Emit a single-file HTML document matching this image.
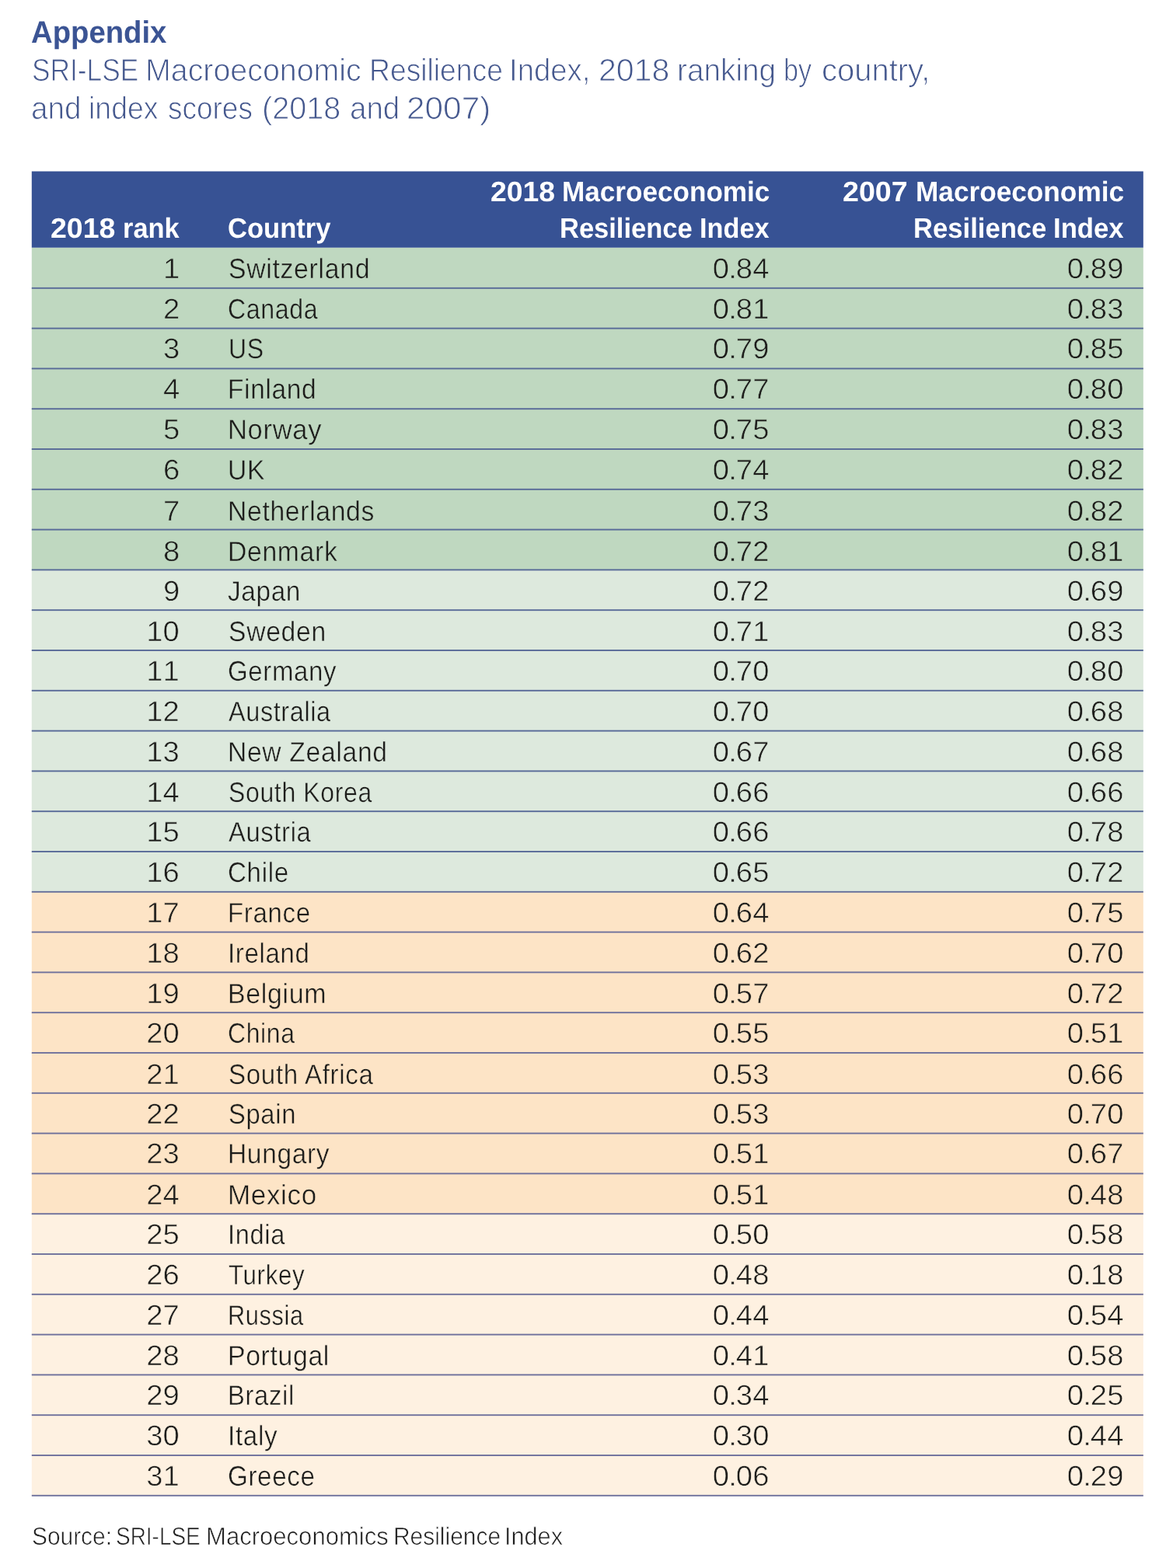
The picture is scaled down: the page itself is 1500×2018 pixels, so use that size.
<!DOCTYPE html>
<html lang="en"><head><meta charset="utf-8"><title>Appendix - SRI-LSE Macroeconomic Resilience Index</title>
<style>
html,body{margin:0;padding:0;background:#fff;}
body{width:1500px;height:2018px;position:relative;overflow:hidden;font-family:"Liberation Sans",Arial,Helvetica,sans-serif;color:#1d1d1b;text-rendering:geometricPrecision;}
svg.bg{position:absolute;left:0;top:0;}
h1,p{margin:0;font-weight:normal;}
.t{position:absolute;display:block;white-space:pre;line-height:0;height:0;}
.w{display:inline-block;line-height:0;transform-origin:0 50%;}
.n{font-kerning:none;transform-origin:100% 50%;transform:scaleX(1.045);}
.d{margin:0 -1.1px;}
.title{color:#45588e;}
.h{color:#fff;}
.src{color:#1f1f1f;-webkit-text-stroke:0.65px #fff;}
.title{-webkit-text-stroke:0.9px #fff;}
h1.title{-webkit-text-stroke:0;color:#3b5494;}
.g1 .t{-webkit-text-stroke:0.45px #bfd8c0;}
.g1 .n{-webkit-text-stroke-width:0.6px;}
.g2 .t{-webkit-text-stroke:0.45px #dde9dd;}
.g2 .n{-webkit-text-stroke-width:0.6px;}
.o1 .t{-webkit-text-stroke:0.45px #fde4c6;}
.o1 .n{-webkit-text-stroke-width:0.6px;}
.o2 .t{-webkit-text-stroke:0.45px #fef1e1;}
.o2 .n{-webkit-text-stroke-width:0.6px;}
</style></head><body>
<svg class="bg" width="1500" height="2018" viewBox="0 0 1500 2018">
<rect x="40.8" y="318.70" width="1430.00" height="52.70" fill="#bfd8c0"/>
<rect x="40.8" y="370.80" width="1430.00" height="52.40" fill="#bfd8c0"/>
<rect x="40.8" y="422.60" width="1430.00" height="52.40" fill="#bfd8c0"/>
<rect x="40.8" y="474.40" width="1430.00" height="52.40" fill="#bfd8c0"/>
<rect x="40.8" y="526.20" width="1430.00" height="52.40" fill="#bfd8c0"/>
<rect x="40.8" y="578.00" width="1430.00" height="52.40" fill="#bfd8c0"/>
<rect x="40.8" y="629.80" width="1430.00" height="52.40" fill="#bfd8c0"/>
<rect x="40.8" y="681.60" width="1430.00" height="52.40" fill="#bfd8c0"/>
<rect x="40.8" y="733.40" width="1430.00" height="52.40" fill="#dde9dd"/>
<rect x="40.8" y="785.20" width="1430.00" height="52.40" fill="#dde9dd"/>
<rect x="40.8" y="837.00" width="1430.00" height="52.40" fill="#dde9dd"/>
<rect x="40.8" y="888.80" width="1430.00" height="52.40" fill="#dde9dd"/>
<rect x="40.8" y="940.60" width="1430.00" height="52.40" fill="#dde9dd"/>
<rect x="40.8" y="992.40" width="1430.00" height="52.40" fill="#dde9dd"/>
<rect x="40.8" y="1044.20" width="1430.00" height="52.40" fill="#dde9dd"/>
<rect x="40.8" y="1096.00" width="1430.00" height="52.40" fill="#dde9dd"/>
<rect x="40.8" y="1147.80" width="1430.00" height="52.40" fill="#fde4c6"/>
<rect x="40.8" y="1199.60" width="1430.00" height="52.40" fill="#fde4c6"/>
<rect x="40.8" y="1251.40" width="1430.00" height="52.40" fill="#fde4c6"/>
<rect x="40.8" y="1303.20" width="1430.00" height="52.40" fill="#fde4c6"/>
<rect x="40.8" y="1355.00" width="1430.00" height="52.40" fill="#fde4c6"/>
<rect x="40.8" y="1406.80" width="1430.00" height="52.40" fill="#fde4c6"/>
<rect x="40.8" y="1458.60" width="1430.00" height="52.40" fill="#fde4c6"/>
<rect x="40.8" y="1510.40" width="1430.00" height="52.40" fill="#fde4c6"/>
<rect x="40.8" y="1562.20" width="1430.00" height="52.40" fill="#fef1e1"/>
<rect x="40.8" y="1614.00" width="1430.00" height="52.40" fill="#fef1e1"/>
<rect x="40.8" y="1665.80" width="1430.00" height="52.40" fill="#fef1e1"/>
<rect x="40.8" y="1717.60" width="1430.00" height="52.40" fill="#fef1e1"/>
<rect x="40.8" y="1769.40" width="1430.00" height="52.40" fill="#fef1e1"/>
<rect x="40.8" y="1821.20" width="1430.00" height="52.40" fill="#fef1e1"/>
<rect x="40.8" y="1873.00" width="1430.00" height="51.80" fill="#fef1e1"/>
<rect x="40.8" y="220.5" width="1430.00" height="98.20" fill="#375294"/>
<rect x="40.8" y="369.85" width="1430.00" height="1.9" fill="#586a98"/>
<rect x="40.8" y="421.65" width="1430.00" height="1.9" fill="#586a98"/>
<rect x="40.8" y="473.45" width="1430.00" height="1.9" fill="#586a98"/>
<rect x="40.8" y="525.25" width="1430.00" height="1.9" fill="#586a98"/>
<rect x="40.8" y="577.05" width="1430.00" height="1.9" fill="#586a98"/>
<rect x="40.8" y="628.85" width="1430.00" height="1.9" fill="#586a98"/>
<rect x="40.8" y="680.65" width="1430.00" height="1.9" fill="#586a98"/>
<rect x="40.8" y="732.45" width="1430.00" height="1.9" fill="#586a98"/>
<rect x="40.8" y="784.25" width="1430.00" height="1.9" fill="#586a98"/>
<rect x="40.8" y="836.05" width="1430.00" height="1.9" fill="#586a98"/>
<rect x="40.8" y="887.85" width="1430.00" height="1.9" fill="#586a98"/>
<rect x="40.8" y="939.65" width="1430.00" height="1.9" fill="#586a98"/>
<rect x="40.8" y="991.45" width="1430.00" height="1.9" fill="#586a98"/>
<rect x="40.8" y="1043.25" width="1430.00" height="1.9" fill="#586a98"/>
<rect x="40.8" y="1095.05" width="1430.00" height="1.9" fill="#586a98"/>
<rect x="40.8" y="1146.85" width="1430.00" height="1.9" fill="#636e9a"/>
<rect x="40.8" y="1198.65" width="1430.00" height="1.9" fill="#6f719c"/>
<rect x="40.8" y="1250.45" width="1430.00" height="1.9" fill="#6f719c"/>
<rect x="40.8" y="1302.25" width="1430.00" height="1.9" fill="#6f719c"/>
<rect x="40.8" y="1354.05" width="1430.00" height="1.9" fill="#6f719c"/>
<rect x="40.8" y="1405.85" width="1430.00" height="1.9" fill="#6f719c"/>
<rect x="40.8" y="1457.65" width="1430.00" height="1.9" fill="#6f719c"/>
<rect x="40.8" y="1509.45" width="1430.00" height="1.9" fill="#6f719c"/>
<rect x="40.8" y="1561.25" width="1430.00" height="1.9" fill="#6f719c"/>
<rect x="40.8" y="1613.05" width="1430.00" height="1.9" fill="#6f719c"/>
<rect x="40.8" y="1664.85" width="1430.00" height="1.9" fill="#6f719c"/>
<rect x="40.8" y="1716.65" width="1430.00" height="1.9" fill="#6f719c"/>
<rect x="40.8" y="1768.45" width="1430.00" height="1.9" fill="#6f719c"/>
<rect x="40.8" y="1820.25" width="1430.00" height="1.9" fill="#6f719c"/>
<rect x="40.8" y="1872.05" width="1430.00" height="1.9" fill="#6f719c"/>
<rect x="40.8" y="1923.85" width="1430.00" height="1.9" fill="#6f719c"/>
</svg>
<h1 class="t title" style="left:40.10px;top:42px;font-size:40px;font-weight:bold"><span class="w" style="transform:scaleX(0.9568)">Appendix</span></h1>
<p class="t title" style="left:40.60px;top:90px;font-size:40.5px"><span class="w" style="transform:scaleX(0.8714);margin-right:-22.775px">SRI-LSE </span><span class="w" style="transform:scaleX(0.9718);margin-right:-9.042px">Macroeconomic </span><span class="w" style="transform:scaleX(0.9202);margin-right:-17.971px">Resilience </span><span class="w" style="transform:scaleX(0.9459);margin-right:-6.612px">Index, </span><span class="w" style="transform:scaleX(1.0144);margin-right:0.255px">2018 </span><span class="w" style="transform:scaleX(0.9568);margin-right:-7.194px">ranking </span><span class="w" style="transform:scaleX(0.8424);margin-right:-5.743px">by </span><span class="w" style="transform:scaleX(0.9871)">country,</span></p>
<p class="t title" style="left:40.49px;top:139px;font-size:40.5px"><span class="w" style="transform:scaleX(0.9542);margin-right:-5.258px">and </span><span class="w" style="transform:scaleX(0.9248);margin-right:-6.309px">index </span><span class="w" style="transform:scaleX(0.9132);margin-right:-9.715px">scores </span><span class="w" style="transform:scaleX(0.9776);margin-right:-1.784px">(2018 </span><span class="w" style="transform:scaleX(0.9511);margin-right:-5.505px">and </span><span class="w" style="transform:scaleX(1.0453)">2007)</span></p>
<div role="table" aria-label="SRI-LSE Macroeconomic Resilience Index ranking">
<div role="row">
<div class="t h" style="left:64.83px;top:294px;font-size:36.3px;font-weight:bold"><span class="w" style="transform:scaleX(1.0328);margin-right:2.184px">2018 </span><span class="w" style="transform:scaleX(0.9472)">rank</span></div>
<div class="t h" style="left:292.92px;top:294px;font-size:36.3px;font-weight:bold"><span class="w" style="transform:scaleX(0.9527)">Country</span></div>
<div class="t h" style="left:630.53px;top:247px;font-size:36.3px;font-weight:bold"><span class="w" style="transform:scaleX(1.0290);margin-right:1.434px">2018 </span><span class="w" style="transform:scaleX(0.9675)">Macroeconomic</span></div>
<div class="t h" style="left:719.54px;top:294px;font-size:36.3px;font-weight:bold"><span class="w" style="transform:scaleX(0.9500);margin-right:-9.658px">Resilience </span><span class="w" style="transform:scaleX(0.9443)">Index</span></div>
<div class="t h" style="left:1083.82px;top:247px;font-size:36.3px;font-weight:bold"><span class="w" style="transform:scaleX(1.0365);margin-right:3.136px">2007 </span><span class="w" style="transform:scaleX(0.9700)">Macroeconomic</span></div>
<div class="t h" style="left:1174.54px;top:294px;font-size:36.3px;font-weight:bold"><span class="w" style="transform:scaleX(0.9540);margin-right:-9.673px">Resilience </span><span class="w" style="transform:scaleX(0.9550)">Index</span></div>
</div>
<div class="row g1" role="row"><span class="t n" style="right:1269.00px;top:346px;font-size:36.6px;letter-spacing:0.130px;margin-right:-0.130px">1</span><span class="t c" style="left:293.69px;top:346px;font-size:36px"><span class="w" style="letter-spacing:0.700px;transform:scaleX(0.9398);margin-right:-0.700px">Switzerland</span></span><span class="t n" style="right:510.60px;top:346px;font-size:36.6px;letter-spacing:0.130px;margin-right:-0.130px">0<span class="d">.</span>84</span><span class="t n" style="right:54.60px;top:346px;font-size:36.6px;letter-spacing:0.130px;margin-right:-0.130px">0<span class="d">.</span>89</span></div>
<div class="row g1" role="row"><span class="t n" style="right:1269.00px;top:398px;font-size:36.6px;letter-spacing:0.130px;margin-right:-0.130px">2</span><span class="t c" style="left:293.24px;top:398px;font-size:36px"><span class="w" style="letter-spacing:0.700px;transform:scaleX(0.8919);margin-right:-0.700px">Canada</span></span><span class="t n" style="right:510.60px;top:398px;font-size:36.6px;letter-spacing:0.130px;margin-right:-0.130px">0<span class="d">.</span>81</span><span class="t n" style="right:54.60px;top:398px;font-size:36.6px;letter-spacing:0.130px;margin-right:-0.130px">0<span class="d">.</span>83</span></div>
<div class="row g1" role="row"><span class="t n" style="right:1269.00px;top:449px;font-size:36.6px;letter-spacing:0.130px;margin-right:-0.130px">3</span><span class="t c" style="left:293.55px;top:449px;font-size:36px"><span class="w" style="letter-spacing:0.700px;transform:scaleX(0.8882);margin-right:-0.700px">US</span></span><span class="t n" style="right:510.60px;top:449px;font-size:36.6px;letter-spacing:0.130px;margin-right:-0.130px">0<span class="d">.</span>79</span><span class="t n" style="right:54.60px;top:449px;font-size:36.6px;letter-spacing:0.130px;margin-right:-0.130px">0<span class="d">.</span>85</span></div>
<div class="row g1" role="row"><span class="t n" style="right:1269.00px;top:501px;font-size:36.6px;letter-spacing:0.130px;margin-right:-0.130px">4</span><span class="t c" style="left:292.94px;top:501px;font-size:36px"><span class="w" style="letter-spacing:0.700px;transform:scaleX(0.9290);margin-right:-0.700px">Finland</span></span><span class="t n" style="right:510.60px;top:501px;font-size:36.6px;letter-spacing:0.130px;margin-right:-0.130px">0<span class="d">.</span>77</span><span class="t n" style="right:54.60px;top:501px;font-size:36.6px;letter-spacing:0.130px;margin-right:-0.130px">0<span class="d">.</span>80</span></div>
<div class="row g1" role="row"><span class="t n" style="right:1269.00px;top:553px;font-size:36.6px;letter-spacing:0.130px;margin-right:-0.130px">5</span><span class="t c" style="left:292.85px;top:553px;font-size:36px"><span class="w" style="letter-spacing:0.700px;transform:scaleX(0.9591);margin-right:-0.700px">Norway</span></span><span class="t n" style="right:510.60px;top:553px;font-size:36.6px;letter-spacing:0.130px;margin-right:-0.130px">0<span class="d">.</span>75</span><span class="t n" style="right:54.60px;top:553px;font-size:36.6px;letter-spacing:0.130px;margin-right:-0.130px">0<span class="d">.</span>83</span></div>
<div class="row g1" role="row"><span class="t n" style="right:1269.00px;top:605px;font-size:36.6px;letter-spacing:0.130px;margin-right:-0.130px">6</span><span class="t c" style="left:293.44px;top:605px;font-size:36px"><span class="w" style="letter-spacing:0.700px;transform:scaleX(0.9382);margin-right:-0.700px">UK</span></span><span class="t n" style="right:510.60px;top:605px;font-size:36.6px;letter-spacing:0.130px;margin-right:-0.130px">0<span class="d">.</span>74</span><span class="t n" style="right:54.60px;top:605px;font-size:36.6px;letter-spacing:0.130px;margin-right:-0.130px">0<span class="d">.</span>82</span></div>
<div class="row g1" role="row"><span class="t n" style="right:1269.00px;top:658px;font-size:36.6px;letter-spacing:0.130px;margin-right:-0.130px">7</span><span class="t c" style="left:292.92px;top:658px;font-size:36px"><span class="w" style="letter-spacing:0.700px;transform:scaleX(0.9367);margin-right:-0.700px">Netherlands</span></span><span class="t n" style="right:510.60px;top:658px;font-size:36.6px;letter-spacing:0.130px;margin-right:-0.130px">0<span class="d">.</span>73</span><span class="t n" style="right:54.60px;top:658px;font-size:36.6px;letter-spacing:0.130px;margin-right:-0.130px">0<span class="d">.</span>82</span></div>
<div class="row g1" role="row"><span class="t n" style="right:1269.00px;top:710px;font-size:36.6px;letter-spacing:0.130px;margin-right:-0.130px">8</span><span class="t c" style="left:292.91px;top:710px;font-size:36px"><span class="w" style="letter-spacing:0.700px;transform:scaleX(0.9372);margin-right:-0.700px">Denmark</span></span><span class="t n" style="right:510.60px;top:710px;font-size:36.6px;letter-spacing:0.130px;margin-right:-0.130px">0<span class="d">.</span>72</span><span class="t n" style="right:54.60px;top:710px;font-size:36.6px;letter-spacing:0.130px;margin-right:-0.130px">0<span class="d">.</span>81</span></div>
<div class="row g2" role="row"><span class="t n" style="right:1269.00px;top:761px;font-size:36.6px;letter-spacing:0.130px;margin-right:-0.130px">9</span><span class="t c" style="left:293.43px;top:761px;font-size:36px"><span class="w" style="letter-spacing:0.700px;transform:scaleX(0.9257);margin-right:-0.700px">Japan</span></span><span class="t n" style="right:510.60px;top:761px;font-size:36.6px;letter-spacing:0.130px;margin-right:-0.130px">0<span class="d">.</span>72</span><span class="t n" style="right:54.60px;top:761px;font-size:36.6px;letter-spacing:0.130px;margin-right:-0.130px">0<span class="d">.</span>69</span></div>
<div class="row g2" role="row"><span class="t n" style="right:1269.00px;top:813px;font-size:36.6px;letter-spacing:0.130px;margin-right:-0.130px">10</span><span class="t c" style="left:293.70px;top:813px;font-size:36px"><span class="w" style="letter-spacing:0.700px;transform:scaleX(0.9368);margin-right:-0.700px">Sweden</span></span><span class="t n" style="right:510.60px;top:813px;font-size:36.6px;letter-spacing:0.130px;margin-right:-0.130px">0<span class="d">.</span>71</span><span class="t n" style="right:54.60px;top:813px;font-size:36.6px;letter-spacing:0.130px;margin-right:-0.130px">0<span class="d">.</span>83</span></div>
<div class="row g2" role="row"><span class="t n" style="right:1269.00px;top:864px;font-size:36.6px;letter-spacing:0.130px;margin-right:-0.130px">11</span><span class="t c" style="left:293.20px;top:864px;font-size:36px"><span class="w" style="letter-spacing:0.700px;transform:scaleX(0.9166);margin-right:-0.700px">Germany</span></span><span class="t n" style="right:510.60px;top:864px;font-size:36.6px;letter-spacing:0.130px;margin-right:-0.130px">0<span class="d">.</span>70</span><span class="t n" style="right:54.60px;top:864px;font-size:36.6px;letter-spacing:0.130px;margin-right:-0.130px">0<span class="d">.</span>80</span></div>
<div class="row g2" role="row"><span class="t n" style="right:1269.00px;top:916px;font-size:36.6px;letter-spacing:0.130px;margin-right:-0.130px">12</span><span class="t c" style="left:293.95px;top:916px;font-size:36px"><span class="w" style="letter-spacing:0.700px;transform:scaleX(0.9000);margin-right:-0.700px">Australia</span></span><span class="t n" style="right:510.60px;top:916px;font-size:36.6px;letter-spacing:0.130px;margin-right:-0.130px">0<span class="d">.</span>70</span><span class="t n" style="right:54.60px;top:916px;font-size:36.6px;letter-spacing:0.130px;margin-right:-0.130px">0<span class="d">.</span>68</span></div>
<div class="row g2" role="row"><span class="t n" style="right:1269.00px;top:968px;font-size:36.6px;letter-spacing:0.130px;margin-right:-0.130px">13</span><span class="t c" style="left:292.92px;top:968px;font-size:36px"><span class="w" style="letter-spacing:0.700px;transform:scaleX(0.9357);margin-right:-0.700px">New Zealand</span></span><span class="t n" style="right:510.60px;top:968px;font-size:36.6px;letter-spacing:0.130px;margin-right:-0.130px">0<span class="d">.</span>67</span><span class="t n" style="right:54.60px;top:968px;font-size:36.6px;letter-spacing:0.130px;margin-right:-0.130px">0<span class="d">.</span>68</span></div>
<div class="row g2" role="row"><span class="t n" style="right:1269.00px;top:1020px;font-size:36.6px;letter-spacing:0.130px;margin-right:-0.130px">14</span><span class="t c" style="left:293.75px;top:1020px;font-size:36px"><span class="w" style="letter-spacing:0.700px;transform:scaleX(0.8897);margin-right:-0.700px">South Korea</span></span><span class="t n" style="right:510.60px;top:1020px;font-size:36.6px;letter-spacing:0.130px;margin-right:-0.130px">0<span class="d">.</span>66</span><span class="t n" style="right:54.60px;top:1020px;font-size:36.6px;letter-spacing:0.130px;margin-right:-0.130px">0<span class="d">.</span>66</span></div>
<div class="row g2" role="row"><span class="t n" style="right:1269.00px;top:1071px;font-size:36.6px;letter-spacing:0.130px;margin-right:-0.130px">15</span><span class="t c" style="left:293.95px;top:1071px;font-size:36px"><span class="w" style="letter-spacing:0.700px;transform:scaleX(0.9101);margin-right:-0.700px">Austria</span></span><span class="t n" style="right:510.60px;top:1071px;font-size:36.6px;letter-spacing:0.130px;margin-right:-0.130px">0<span class="d">.</span>66</span><span class="t n" style="right:54.60px;top:1071px;font-size:36.6px;letter-spacing:0.130px;margin-right:-0.130px">0<span class="d">.</span>78</span></div>
<div class="row g2" role="row"><span class="t n" style="right:1269.00px;top:1123px;font-size:36.6px;letter-spacing:0.130px;margin-right:-0.130px">16</span><span class="t c" style="left:293.20px;top:1123px;font-size:36px"><span class="w" style="letter-spacing:0.700px;transform:scaleX(0.9205);margin-right:-0.700px">Chile</span></span><span class="t n" style="right:510.60px;top:1123px;font-size:36.6px;letter-spacing:0.130px;margin-right:-0.130px">0<span class="d">.</span>65</span><span class="t n" style="right:54.60px;top:1123px;font-size:36.6px;letter-spacing:0.130px;margin-right:-0.130px">0<span class="d">.</span>72</span></div>
<div class="row o1" role="row"><span class="t n" style="right:1269.00px;top:1175px;font-size:36.6px;letter-spacing:0.130px;margin-right:-0.130px">17</span><span class="t c" style="left:292.97px;top:1175px;font-size:36px"><span class="w" style="letter-spacing:0.700px;transform:scaleX(0.9185);margin-right:-0.700px">France</span></span><span class="t n" style="right:510.60px;top:1175px;font-size:36.6px;letter-spacing:0.130px;margin-right:-0.130px">0<span class="d">.</span>64</span><span class="t n" style="right:54.60px;top:1175px;font-size:36.6px;letter-spacing:0.130px;margin-right:-0.130px">0<span class="d">.</span>75</span></div>
<div class="row o1" role="row"><span class="t n" style="right:1269.00px;top:1227px;font-size:36.6px;letter-spacing:0.130px;margin-right:-0.130px">18</span><span class="t c" style="left:292.97px;top:1227px;font-size:36px"><span class="w" style="letter-spacing:0.700px;transform:scaleX(0.9183);margin-right:-0.700px">Ireland</span></span><span class="t n" style="right:510.60px;top:1227px;font-size:36.6px;letter-spacing:0.130px;margin-right:-0.130px">0<span class="d">.</span>62</span><span class="t n" style="right:54.60px;top:1227px;font-size:36.6px;letter-spacing:0.130px;margin-right:-0.130px">0<span class="d">.</span>70</span></div>
<div class="row o1" role="row"><span class="t n" style="right:1269.00px;top:1279px;font-size:36.6px;letter-spacing:0.130px;margin-right:-0.130px">19</span><span class="t c" style="left:292.90px;top:1279px;font-size:36px"><span class="w" style="letter-spacing:0.700px;transform:scaleX(0.9430);margin-right:-0.700px">Belgium</span></span><span class="t n" style="right:510.60px;top:1279px;font-size:36.6px;letter-spacing:0.130px;margin-right:-0.130px">0<span class="d">.</span>57</span><span class="t n" style="right:54.60px;top:1279px;font-size:36.6px;letter-spacing:0.130px;margin-right:-0.130px">0<span class="d">.</span>72</span></div>
<div class="row o1" role="row"><span class="t n" style="right:1269.00px;top:1330px;font-size:36.6px;letter-spacing:0.130px;margin-right:-0.130px">20</span><span class="t c" style="left:293.25px;top:1330px;font-size:36px"><span class="w" style="letter-spacing:0.700px;transform:scaleX(0.8878);margin-right:-0.700px">China</span></span><span class="t n" style="right:510.60px;top:1330px;font-size:36.6px;letter-spacing:0.130px;margin-right:-0.130px">0<span class="d">.</span>55</span><span class="t n" style="right:54.60px;top:1330px;font-size:36.6px;letter-spacing:0.130px;margin-right:-0.130px">0<span class="d">.</span>51</span></div>
<div class="row o1" role="row"><span class="t n" style="right:1269.00px;top:1383px;font-size:36.6px;letter-spacing:0.130px;margin-right:-0.130px">21</span><span class="t c" style="left:293.71px;top:1383px;font-size:36px"><span class="w" style="letter-spacing:0.700px;transform:scaleX(0.9211);margin-right:-0.700px">South Africa</span></span><span class="t n" style="right:510.60px;top:1383px;font-size:36.6px;letter-spacing:0.130px;margin-right:-0.130px">0<span class="d">.</span>53</span><span class="t n" style="right:54.60px;top:1383px;font-size:36.6px;letter-spacing:0.130px;margin-right:-0.130px">0<span class="d">.</span>66</span></div>
<div class="row o1" role="row"><span class="t n" style="right:1269.00px;top:1434px;font-size:36.6px;letter-spacing:0.130px;margin-right:-0.130px">22</span><span class="t c" style="left:293.73px;top:1434px;font-size:36px"><span class="w" style="letter-spacing:0.700px;transform:scaleX(0.9103);margin-right:-0.700px">Spain</span></span><span class="t n" style="right:510.60px;top:1434px;font-size:36.6px;letter-spacing:0.130px;margin-right:-0.130px">0<span class="d">.</span>53</span><span class="t n" style="right:54.60px;top:1434px;font-size:36.6px;letter-spacing:0.130px;margin-right:-0.130px">0<span class="d">.</span>70</span></div>
<div class="row o1" role="row"><span class="t n" style="right:1269.00px;top:1485px;font-size:36.6px;letter-spacing:0.130px;margin-right:-0.130px">23</span><span class="t c" style="left:292.93px;top:1485px;font-size:36px"><span class="w" style="letter-spacing:0.700px;transform:scaleX(0.9312);margin-right:-0.700px">Hungary</span></span><span class="t n" style="right:510.60px;top:1485px;font-size:36.6px;letter-spacing:0.130px;margin-right:-0.130px">0<span class="d">.</span>51</span><span class="t n" style="right:54.60px;top:1485px;font-size:36.6px;letter-spacing:0.130px;margin-right:-0.130px">0<span class="d">.</span>67</span></div>
<div class="row o1" role="row"><span class="t n" style="right:1269.00px;top:1538px;font-size:36.6px;letter-spacing:0.130px;margin-right:-0.130px">24</span><span class="t c" style="left:292.82px;top:1538px;font-size:36px"><span class="w" style="letter-spacing:0.700px;transform:scaleX(0.9712);margin-right:-0.700px">Mexico</span></span><span class="t n" style="right:510.60px;top:1538px;font-size:36.6px;letter-spacing:0.130px;margin-right:-0.130px">0<span class="d">.</span>51</span><span class="t n" style="right:54.60px;top:1538px;font-size:36.6px;letter-spacing:0.130px;margin-right:-0.130px">0<span class="d">.</span>48</span></div>
<div class="row o2" role="row"><span class="t n" style="right:1269.00px;top:1589px;font-size:36.6px;letter-spacing:0.130px;margin-right:-0.130px">25</span><span class="t c" style="left:293.00px;top:1589px;font-size:36px"><span class="w" style="letter-spacing:0.700px;transform:scaleX(0.9070);margin-right:-0.700px">India</span></span><span class="t n" style="right:510.60px;top:1589px;font-size:36.6px;letter-spacing:0.130px;margin-right:-0.130px">0<span class="d">.</span>50</span><span class="t n" style="right:54.60px;top:1589px;font-size:36.6px;letter-spacing:0.130px;margin-right:-0.130px">0<span class="d">.</span>58</span></div>
<div class="row o2" role="row"><span class="t n" style="right:1269.00px;top:1641px;font-size:36.6px;letter-spacing:0.130px;margin-right:-0.130px">26</span><span class="t c" style="left:293.96px;top:1641px;font-size:36px"><span class="w" style="letter-spacing:0.700px;transform:scaleX(0.8699);margin-right:-0.700px">Turkey</span></span><span class="t n" style="right:510.60px;top:1641px;font-size:36.6px;letter-spacing:0.130px;margin-right:-0.130px">0<span class="d">.</span>48</span><span class="t n" style="right:54.60px;top:1641px;font-size:36.6px;letter-spacing:0.130px;margin-right:-0.130px">0<span class="d">.</span>18</span></div>
<div class="row o2" role="row"><span class="t n" style="right:1269.00px;top:1693px;font-size:36.6px;letter-spacing:0.130px;margin-right:-0.130px">27</span><span class="t c" style="left:293.14px;top:1693px;font-size:36px"><span class="w" style="letter-spacing:0.700px;transform:scaleX(0.8562);margin-right:-0.700px">Russia</span></span><span class="t n" style="right:510.60px;top:1693px;font-size:36.6px;letter-spacing:0.130px;margin-right:-0.130px">0<span class="d">.</span>44</span><span class="t n" style="right:54.60px;top:1693px;font-size:36.6px;letter-spacing:0.130px;margin-right:-0.130px">0<span class="d">.</span>54</span></div>
<div class="row o2" role="row"><span class="t n" style="right:1269.00px;top:1745px;font-size:36.6px;letter-spacing:0.130px;margin-right:-0.130px">28</span><span class="t c" style="left:292.91px;top:1745px;font-size:36px"><span class="w" style="letter-spacing:0.700px;transform:scaleX(0.9380);margin-right:-0.700px">Portugal</span></span><span class="t n" style="right:510.60px;top:1745px;font-size:36.6px;letter-spacing:0.130px;margin-right:-0.130px">0<span class="d">.</span>41</span><span class="t n" style="right:54.60px;top:1745px;font-size:36.6px;letter-spacing:0.130px;margin-right:-0.130px">0<span class="d">.</span>58</span></div>
<div class="row o2" role="row"><span class="t n" style="right:1269.00px;top:1796px;font-size:36.6px;letter-spacing:0.130px;margin-right:-0.130px">29</span><span class="t c" style="left:292.99px;top:1796px;font-size:36px"><span class="w" style="letter-spacing:0.700px;transform:scaleX(0.9113);margin-right:-0.700px">Brazil</span></span><span class="t n" style="right:510.60px;top:1796px;font-size:36.6px;letter-spacing:0.130px;margin-right:-0.130px">0<span class="d">.</span>34</span><span class="t n" style="right:54.60px;top:1796px;font-size:36.6px;letter-spacing:0.130px;margin-right:-0.130px">0<span class="d">.</span>25</span></div>
<div class="row o2" role="row"><span class="t n" style="right:1269.00px;top:1848px;font-size:36.6px;letter-spacing:0.130px;margin-right:-0.130px">30</span><span class="t c" style="left:292.95px;top:1848px;font-size:36px"><span class="w" style="letter-spacing:0.700px;transform:scaleX(0.9241);margin-right:-0.700px">Italy</span></span><span class="t n" style="right:510.60px;top:1848px;font-size:36.6px;letter-spacing:0.130px;margin-right:-0.130px">0<span class="d">.</span>30</span><span class="t n" style="right:54.60px;top:1848px;font-size:36.6px;letter-spacing:0.130px;margin-right:-0.130px">0<span class="d">.</span>44</span></div>
<div class="row o2" role="row"><span class="t n" style="right:1269.00px;top:1900px;font-size:36.6px;letter-spacing:0.130px;margin-right:-0.130px">31</span><span class="t c" style="left:292.90px;top:1900px;font-size:36px"><span class="w" style="letter-spacing:0.700px;transform:scaleX(0.9205);margin-right:-0.700px">Greece</span></span><span class="t n" style="right:510.60px;top:1900px;font-size:36.6px;letter-spacing:0.130px;margin-right:-0.130px">0<span class="d">.</span>06</span><span class="t n" style="right:54.60px;top:1900px;font-size:36.6px;letter-spacing:0.130px;margin-right:-0.130px">0<span class="d">.</span>29</span></div>
</div>
<p class="t src" style="left:40.77px;top:1977px;font-size:32px"><span class="w" style="transform:scaleX(0.9334);margin-right:-11.112px">Source: </span><span class="w" style="transform:scaleX(0.8736);margin-right:-17.628px">SRI-LSE </span><span class="w" style="transform:scaleX(0.9708);margin-right:-9.161px">Macroeconomics </span><span class="w" style="transform:scaleX(0.9351);margin-right:-13.373px">Resilience </span><span class="w" style="transform:scaleX(0.9580)">Index</span></p>
</body></html>
